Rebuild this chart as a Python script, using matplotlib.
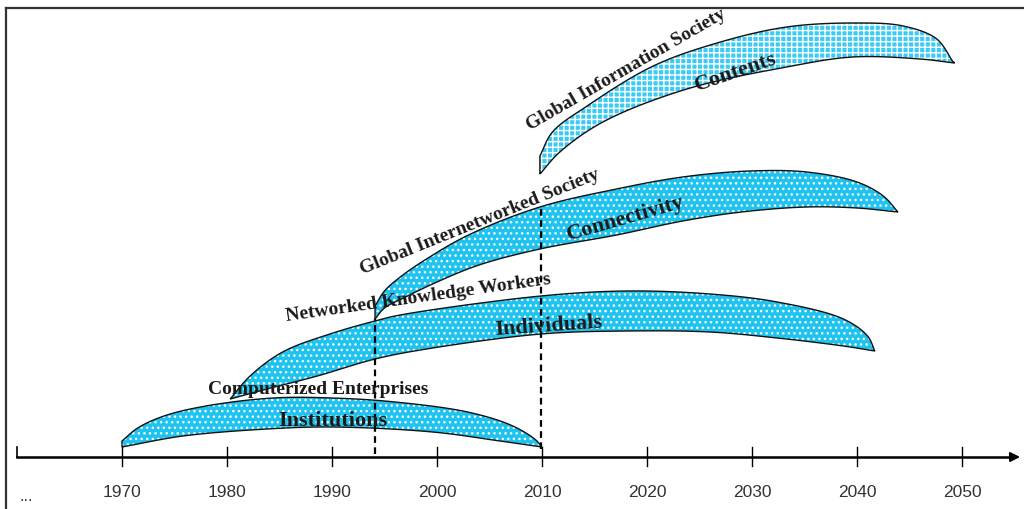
import numpy as np
import matplotlib.pyplot as plt

# decade ticks on the time line
decades = [1970, 1980, 1990, 2000, 2010, 2020, 2030, 2040, 2050]

# each band: upper edge and lower edge (year, height above the time line)
inst_up_x = [1970, 1971.5, 1974.0, 1978.0, 1984.4, 1990.0, 1996.0, 2002.9, 2007.0, 2009.3, 2010]
inst_up_y = [16, 29, 41, 51, 59, 59, 55, 45, 32, 18, 10]
inst_lo_x = [1970, 1971.0, 1975.8, 1983.8, 1990.1, 1999.6, 2006.0, 2010]
inst_lo_y = [10, 12, 21, 28, 30, 25, 16, 10]

indiv_up_x = [1980.3, 1982.2, 1985.3, 1990.1, 1994.1, 1996.5, 2009.9, 2018.1, 2026.0, 2032.4, 2038.7, 2041.0, 2041.7]
indiv_up_y = [58, 81, 105, 124, 136, 142, 161, 166, 163, 155, 138, 121, 106]
indiv_lo_x = [1980.3, 1983.8, 1988.6, 1994.1, 1999.0, 2009.9, 2018.1, 2026.0, 2032.4, 2038.7, 2041.7]
indiv_lo_y = [58, 68, 81, 98, 108, 123, 126, 125, 119, 111, 106]

conn_up_x = [1994.1, 1995.0, 1996.5, 1999.0, 2003.0, 2009.8, 2017.1, 2023.4, 2029.8, 2035.2, 2040.0, 2042.5, 2043.9]
conn_up_y = [151, 166, 180, 198, 222, 250, 268, 280, 286, 285, 275, 261, 245]
conn_lo_x = [1994.1, 1995.0, 1997.0, 2000.0, 2004.0, 2009.8, 2017.1, 2023.4, 2029.0, 2035.2, 2040.0, 2043.9]
conn_lo_y = [138, 149, 160, 175, 192, 208, 222, 236, 245, 250, 249, 245]

cont_up_x = [2009.8, 2011.0, 2014.3, 2020.6, 2027.0, 2033.3, 2039.6, 2044.4, 2047.6, 2049.1, 2049.3]
cont_up_y = [301, 325, 351, 391, 415, 430, 434, 431, 418, 396, 394]
cont_lo_x = [2009.8, 2011.7, 2015.8, 2023.8, 2033.3, 2039.6, 2046.0, 2049.3]
cont_lo_y = [283, 305, 335, 368, 390, 400, 398, 394]

# vertical markers: year, bottom, top
marker_years = [1994.1, 2009.9]
marker_lo = [3, 8]
marker_hi = [138, 251]

# labels: text, year, height, rotation, size
labels = [
    ("Computerized Enterprises", 1988.7, 69, 0, 14),
    ("Institutions", 1990.1, 37, 0, 16),
    ("Networked Knowledge Workers", 1998.2, 160, 8, 14),
    ("Individuals", 2010.6, 132, 4, 16),
    ("Global Internetworked Society", 2004.1, 236, 22, 14),
    ("Connectivity", 2018.0, 239, 16, 16),
    ("Global Information Society", 2018.0, 388, 30, 14),
    ("Contents", 2028.4, 386, 19, 16),
]

PX_PER_YEAR = 10.5


def smooth(xs, ys, n=20):
    # centripetal Catmull-Rom through the points, worked out in pixel space
    p = np.column_stack([np.asarray(xs) * PX_PER_YEAR, ys]).astype(float)
    p = np.vstack([2 * p[0] - p[1], p, 2 * p[-1] - p[-2]])
    out = []
    for i in range(1, len(p) - 2):
        p0, p1, p2, p3 = p[i - 1], p[i], p[i + 1], p[i + 2]
        t0 = 0.0
        t1 = t0 + np.linalg.norm(p1 - p0) ** 0.5
        t2 = t1 + np.linalg.norm(p2 - p1) ** 0.5
        t3 = t2 + np.linalg.norm(p3 - p2) ** 0.5
        t = np.linspace(t1, t2, n, endpoint=False)[:, None]
        a1 = (t1 - t) / (t1 - t0) * p0 + (t - t0) / (t1 - t0) * p1
        a2 = (t2 - t) / (t2 - t1) * p1 + (t - t1) / (t2 - t1) * p2
        a3 = (t3 - t) / (t3 - t2) * p2 + (t - t2) / (t3 - t2) * p3
        b1 = (t2 - t) / (t2 - t0) * a1 + (t - t0) / (t2 - t0) * a2
        b2 = (t3 - t) / (t3 - t1) * a2 + (t - t1) / (t3 - t1) * a3
        out.append((t2 - t) / (t2 - t1) * b1 + (t - t1) / (t2 - t1) * b2)
    out.append(p[-2][None])
    pts = np.vstack(out)
    pts[:, 0] /= PX_PER_YEAR
    return pts


def band(ax, ux, uy, lx, ly, face, hatch):
    up = smooth(ux, uy)
    lo = smooth(lx, ly)[::-1]
    poly = np.vstack([up, lo])
    ax.fill(poly[:, 0], poly[:, 1], facecolor=face, edgecolor='none', zorder=2)
    ax.fill(poly[:, 0], poly[:, 1], facecolor='none', edgecolor='white',
            hatch=hatch, linewidth=0, zorder=3)
    ax.fill(poly[:, 0], poly[:, 1], facecolor='none', edgecolor='#111111',
            linewidth=1.0, zorder=4)


plt.rcParams['hatch.linewidth'] = 1.0

fig = plt.figure(figsize=(10.24, 5.1), dpi=100)
ax = fig.add_axes([0, 0, 1, 1])
ax.set_xlim(1958.381, 2055.905)
ax.set_ylim(-52, 458)
ax.axis('off')

band(ax, inst_up_x, inst_up_y, inst_lo_x, inst_lo_y, '#1EC3F0', '...')
band(ax, indiv_up_x, indiv_up_y, indiv_lo_x, indiv_lo_y, '#1EC3F0', '...')
band(ax, conn_up_x, conn_up_y, conn_lo_x, conn_lo_y, '#1EC3F0', '...')
band(ax, cont_up_x, cont_up_y, cont_lo_x, cont_lo_y, '#3CCBF4', '+++')

for yr, lo, hi in zip(marker_years, marker_lo, marker_hi):
    ax.plot([yr, yr], [lo, hi], color='black', linestyle=(0, (3, 2)),
            linewidth=1.6, zorder=5)

# time line with arrow
ax.plot([1960, 2055], [0, 0], color='black', linewidth=1.8, zorder=6)
ax.annotate('', xy=(2055.8, 0), xytext=(2054.5, 0),
            arrowprops=dict(arrowstyle='-|>', color='black', lw=1.5,
                            mutation_scale=14), zorder=6)
ax.plot([1960, 1960], [0, 10], color='black', linewidth=1.2, zorder=6)
for d in decades:
    ax.plot([d, d], [-9, 10], color='black', linewidth=1.0, zorder=6)
    ax.text(d, -35, str(d), ha='center', va='center', fontsize=12.5,
            family='Liberation Sans', color='#333333')
ax.text(1960.9, -39, '...', ha='center', va='center', fontsize=12,
        family='Liberation Sans', color='#333333')

for txt, x, y, rot, size in labels:
    ax.text(x, y, txt, ha='center', va='center', rotation=rot,
            rotation_mode='anchor', fontsize=size, fontweight='bold',
            family='Liberation Serif', color='#1a1a1a', zorder=7)

# frame along the top and left
fig.add_artist(plt.Line2D([6 / 1024, 1], [1 - 9 / 510, 1 - 9 / 510],
                          color='#333333', linewidth=1.6))
fig.add_artist(plt.Line2D([6 / 1024, 6 / 1024], [0, 1 - 9 / 510],
                          color='#333333', linewidth=1.6))

fig.savefig('out.png', dpi=100)
